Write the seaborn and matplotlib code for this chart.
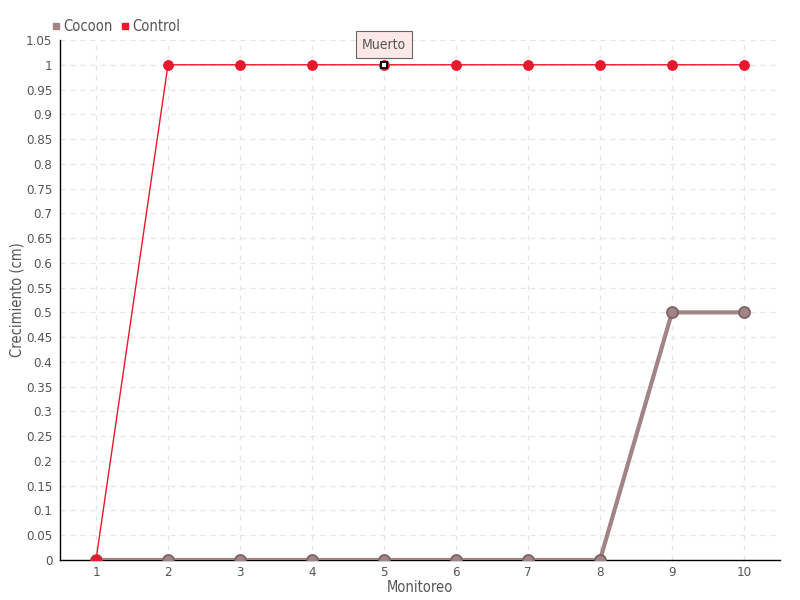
import numpy as np
import pandas as pd
import matplotlib
matplotlib.use('Agg')
import matplotlib.pyplot as plt
import seaborn as sns
from matplotlib.lines import Line2D

# data
monitoreo = [1, 2, 3, 4, 5, 6, 7, 8, 9, 10]
cocoon = [0, 0, 0, 0, 0, 0, 0, 0, 0.5, 0.5]
control = [0, 1, 1, 1, 1, 1, 1, 1, 1, 1]
muerto_idx = 4  # Monitoreo 5 on Control

df = pd.DataFrame({'Monitoreo': monitoreo * 2,
                   'Crecimiento': cocoon + control,
                   'Serie': ['Cocoon'] * len(cocoon) + ['Control'] * len(control)})

sns.set_style("white")
plt.rcParams['font.family'] = ['DejaVu Sans']
plt.rcParams['font.stretch'] = 'condensed'
txt = '#555555'

fig = plt.figure(figsize=(8, 6), dpi=100)
ax = fig.add_axes([0.075, 0.0667, 0.9, 0.8666])

c_cocoon = '#a08486'
c_control = '#e8192c'

sns.lineplot(data=df[df.Serie == 'Cocoon'], x='Monitoreo', y='Crecimiento', ax=ax,
             color=c_cocoon, linewidth=3, marker='o', markersize=8,
             markerfacecolor=c_cocoon, markeredgecolor='#7a6063', markeredgewidth=1.2,
             zorder=3)
sns.lineplot(data=df[df.Serie == 'Control'], x='Monitoreo', y='Crecimiento', ax=ax,
             color=c_control, linewidth=1, marker='o', markersize=7,
             markerfacecolor=c_control, markeredgecolor=c_control,
             zorder=4)

# "Muerto" marker
ax.plot(monitoreo[muerto_idx], control[muerto_idx], marker='s', markersize=5,
        markerfacecolor='white', markeredgecolor='black', markeredgewidth=1.3, zorder=6)
ax.annotate('Muerto', xy=(monitoreo[muerto_idx], control[muerto_idx]),
            xytext=(0, 14.5), textcoords='offset points', ha='center', va='center',
            fontsize=10, color=txt, zorder=7,
            bbox=dict(boxstyle='square,pad=0.45', fc='#fde8e8', ec='#666666', lw=0.8))

ax.set_xlim(0.5, 10.5)
ax.set_ylim(0, 1.05)
ax.set_xticks(monitoreo)
yt = np.round(np.arange(0, 1.0501, 0.05), 2)
ax.set_yticks(yt)
ax.set_yticklabels([('%g' % v) for v in yt])
ax.grid(True, color='#e6e6e6', linestyle=(0, (4, 4)), linewidth=0.9)
ax.set_axisbelow(True)

for s in ['top', 'right']:
    ax.spines[s].set_visible(False)
for s in ['left', 'bottom']:
    ax.spines[s].set_color('black')
    ax.spines[s].set_linewidth(1)
ax.tick_params(axis='both', direction='inout', length=7, width=1, colors='black',
               labelcolor=txt, labelsize=9.5)
ax.tick_params(axis='y', pad=2)
ax.tick_params(axis='x', pad=1)

ax.set_xlabel('Monitoreo', fontsize=10.5, color=txt)
ax.set_ylabel('Crecimiento (cm)', fontsize=10.5, color=txt)
ax.xaxis.set_label_coords(0.5, -0.038)
ax.yaxis.set_label_coords(-0.049, 0.5)

# legend
handles = [Line2D([], [], marker='s', linestyle='none', color=c_cocoon, markersize=4.5),
           Line2D([], [], marker='s', linestyle='none', color=c_control, markersize=4.5)]
fig.legend(handles, ['Cocoon', 'Control'], loc='upper left', bbox_to_anchor=(0.045, 0.99),
           ncol=2, frameon=False, handletextpad=0.0, columnspacing=0.3,
           handlelength=1.0, fontsize=10.5, labelcolor=txt)

fig.savefig('out.png', dpi=100)
